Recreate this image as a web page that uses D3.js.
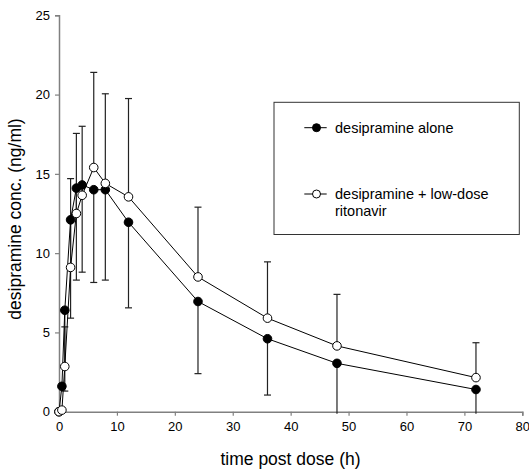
<!DOCTYPE html>
<html>
<head>
<meta charset="utf-8">
<script src="https://cdn.jsdelivr.net/npm/d3@7"></script>
<style>
    body { margin: 0; background: #fff; }
    text { font-family: "Liberation Sans", Arial, sans-serif; }
</style>
</head>
<body>
<svg id="chart" width="529" height="469"></svg>
<script>
// 采样时间 (h)
var times      = [0, 0.5, 1, 2, 3, 4, 6, 8, 12, 24, 36, 48, 72]
// desipramine alone: 均值 + 向下误差
var aloneMean  = [0, 1.6, 6.4, 12.1, 14.1, 14.3, 14.0, 14.0, 11.95, 6.95, 4.6, 3.05, 1.4]
var aloneSD    = [0, 0, 5.1, 6.2, 5.8, 5.5, 5.85, 5.7, 5.4, 4.55, 3.55, 3.3, 1.6]
// desipramine + low-dose ritonavir: 均值 + 向上误差
var ritoMean   = [0, 0.1, 2.85, 9.1, 12.5, 13.65, 15.4, 14.4, 13.55, 8.5, 5.9, 4.15, 2.15]
var ritoSD     = [0, 0, 2.5, 5.6, 5.05, 4.35, 6.0, 5.65, 6.2, 4.4, 3.55, 3.25, 2.2]

var xTicks     = [0, 10, 20, 30, 40, 50, 60, 70, 80]
var yTicks     = [0, 5, 10, 15, 20, 25]
var legendText = ["desipramine alone", "desipramine + low-dose", "ritonavir"]

var svg = d3.select("#chart")

var x = d3.scaleLinear().domain([0, 80]).range([59, 522.3])
var y = d3.scaleLinear().domain([0, 25]).range([411.7, 15.3])

var axisColor = "#808080"

// 坐标轴
var xAxis = svg.append("g")
               .attr("transform", "translate(0," + y(0) + ")")
               .call(d3.axisBottom(x).tickValues(xTicks).tickSize(4).tickPadding(6))
var yAxis = svg.append("g")
               .attr("transform", "translate(" + x(0) + ",0)")
               .call(d3.axisLeft(y).tickValues(yTicks).tickSize(4).tickPadding(5))

;[xAxis, yAxis].forEach(function (a) {
    a.select(".domain").attr("stroke", axisColor).attr("stroke-width", 1.5)
    a.selectAll(".tick line").attr("stroke", axisColor).attr("stroke-width", 1.2)
    a.selectAll(".tick text")
     .attr("fill", "#000")
     .attr("font-size", 13)
     .attr("font-family", "Liberation Sans, Arial, sans-serif")
})

svg.append("text")
   .attr("x", 290.5)
   .attr("y", 465)
   .attr("text-anchor", "middle")
   .attr("font-size", 17.5)
   .text("time post dose (h)")

svg.append("text")
   .attr("transform", "translate(21,219) rotate(-90)")
   .attr("text-anchor", "middle")
   .attr("font-size", 17.5)
   .text("desipramine conc. (ng/ml)")

// 误差线
var cap = 3.5
function drawBars(means, sds, dir) {
    var g = svg.append("g")
    times.forEach(function (t, i) {
        if (sds[i] <= 0) return
        var end = means[i] + dir * sds[i]
        var clipped = end < 0
        var yEnd = clipped ? y(0) + 2 : y(end)
        g.append("line")
         .attr("x1", x(t)).attr("x2", x(t))
         .attr("y1", y(means[i])).attr("y2", yEnd)
         .attr("stroke", "#222").attr("stroke-width", 1.2)
        if (!clipped) {
            g.append("line")
             .attr("x1", x(t) - cap).attr("x2", x(t) + cap)
             .attr("y1", yEnd).attr("y2", yEnd)
             .attr("stroke", "#222").attr("stroke-width", 1.2)
        }
    })
}
drawBars(aloneMean, aloneSD, -1)
drawBars(ritoMean, ritoSD, 1)

// 折线与点
var line = d3.line()
             .x(function (d) { return x(d[0]) })
             .y(function (d) { return y(d[1]) })

function drawSeries(means, fill) {
    var pts = times.map(function (t, i) { return [t, means[i]] })
    svg.append("path")
       .datum(pts)
       .attr("d", line)
       .attr("fill", "none")
       .attr("stroke", "#000")
       .attr("stroke-width", 1)
    svg.append("g")
       .selectAll("circle")
       .data(pts)
       .join("circle")
       .attr("cx", function (d) { return x(d[0]) })
       .attr("cy", function (d) { return y(d[1]) })
       .attr("r", 4.3)
       .attr("fill", fill)
       .attr("stroke", "#000")
       .attr("stroke-width", 1)
}
drawSeries(aloneMean, "#000")
drawSeries(ritoMean, "#fff")

// 图例
var legend = svg.append("g")
legend.append("rect")
      .attr("x", 274).attr("y", 102.3)
      .attr("width", 245.3).attr("height", 132.2)
      .attr("fill", "#fff")
      .attr("stroke", "#333")
      .attr("stroke-width", 1)

var legendRows = [{ y: 127.7, fill: "#000", lines: [legendText[0]] },
                  { y: 194,   fill: "#fff", lines: [legendText[1], legendText[2]] }]
legendRows.forEach(function (r) {
    legend.append("line")
          .attr("x1", 304.3).attr("x2", 326.7)
          .attr("y1", r.y).attr("y2", r.y)
          .attr("stroke", "#000").attr("stroke-width", 1)
    legend.append("circle")
          .attr("cx", 316.5).attr("cy", r.y).attr("r", 4)
          .attr("fill", r.fill).attr("stroke", "#000").attr("stroke-width", 1)
    r.lines.forEach(function (s, k) {
        legend.append("text")
              .attr("x", 335)
              .attr("y", r.y + 5 + k * 17)
              .attr("font-size", 14.5)
              .text(s)
    })
})
</script>
</body>
</html>
